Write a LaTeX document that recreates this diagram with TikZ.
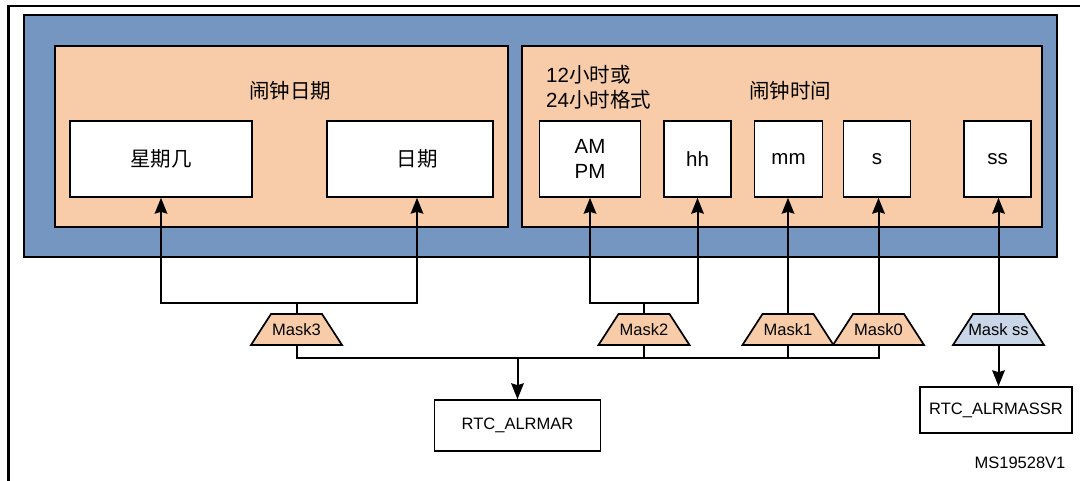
\documentclass[tikz,border=0pt]{standalone}
\usepackage{fontspec}
\setmainfont{Liberation Sans}
\newfontfamily\cjk{Noto Sans CJK SC}
\usetikzlibrary{arrows.meta}
\definecolor{bluebg}{HTML}{7596C1}
\definecolor{orangebg}{HTML}{F8CCA8}
\definecolor{maskss}{HTML}{C8D6E7}
\tikzset{
 frameline/.style={line width=2.5pt},
 panel/.style={draw, line width=2pt, fill=bluebg, minimum width=1033pt, minimum height=242pt, inner sep=0pt},
 group/.style={draw, line width=2pt, fill=orangebg, minimum height=181pt, inner sep=0pt},
 field/.style={draw, line width=1.7pt, fill=white, minimum height=76pt, inner sep=0pt, font=\fontsize{20.5}{25}\selectfont, align=center},
 masktext/.style={minimum width=51pt, minimum height=31pt, inner sep=0pt, font=\fontsize{16.5}{19}\selectfont},
 trapline/.style={draw, line width=1.7pt, line join=miter},
 reg/.style={draw, line width=1.7pt, fill=white, inner sep=0pt, font=\fontsize{16.5}{19}\selectfont},
 conn/.style={line width=2pt},
 arr/.style={conn, -{Stealth[length=16pt,width=13pt,inset=2pt,line width=0pt]}},
 lbl/.style={font=\fontsize{20.5}{25}\selectfont, inner sep=0pt}
}
\newcommand\masktrap[3]{%
  \filldraw[trapline, fill=#3] ({#1-45.5},{#2+15.5}) -- ({#1-25.5},{#2-15.5}) -- ({#1+25.5},{#2-15.5}) -- ({#1+45.5},{#2+15.5}) -- cycle;}
\begin{document}
\begin{tikzpicture}[x=1pt,y=-1pt]
\useasboundingbox (0,0) rectangle (1080,481);
% outer frame
\draw[frameline] (8.3,481) -- (8.3,6) -- (1080,6);
% blue panel
\node[panel] (panel) at (540.5,136) {};
% orange groups
\node[group, minimum width=453pt] (dategrp) at (281.5,136.5) {};
\node[group, minimum width=520pt] (timegrp) at (782,136.5) {};
% group titles
\node[lbl] (datetitle) at (290,91) {\cjk 闹钟日期};
\node[lbl] (timetitle) at (790,91) {\cjk 闹钟时间};
\node[lbl, anchor=west, align=left] (fmt) at (546,87) {12{\cjk 小时或}\\24{\cjk 小时格式}};
% fields
\node[field, minimum width=182pt] (wd) at (161,159) {\cjk 星期几};
\node[field, minimum width=166pt, label={[lbl, xshift=7pt]center:{\cjk 日期}}] (dt) at (410,159) {};
\node[field, minimum width=101pt] (ampm) at (590,159) {AM\\PM};
\node[field, minimum width=67pt] (hh) at (697.5,159) {hh};
\node[field, minimum width=68pt] (mm) at (788.5,159) {mm};
\node[field, minimum width=67pt] (sec) at (877,159) {s};
\node[field, minimum width=67pt] (ss) at (997.5,159) {ss};
% masks
\masktrap{296.5}{329.5}{orangebg}
\masktrap{644}{329.5}{orangebg}
\masktrap{788}{329.5}{orangebg}
\masktrap{878.5}{329.5}{orangebg}
\masktrap{998.5}{329.5}{maskss}
\node[masktext] (m3) at (296.5,329.5) {Mask3};
\node[masktext] (m2) at (644,329.5) {Mask2};
\node[masktext] (m1) at (788,329.5) {Mask1};
\node[masktext] (m0) at (878.5,329.5) {Mask0};
\node[masktext] (mss) at (998.5,329.5) {Mask ss};
% registers
\node[reg, minimum width=166pt, minimum height=51pt] (alrmar) at (517.5,425.5) {RTC\_ALRMAR};
\node[reg, minimum width=152pt, minimum height=46pt] (alrmassr) at (996,410) {RTC\_ALRMASSR};
\node[inner sep=0pt, font=\fontsize{16.5}{19}\selectfont] (ref) at (1020,463) {MS19528V1};
% connectors
\coordinate (b3) at (296.5,303);
\coordinate (b2) at (644,303);
\coordinate (bus) at (517.5,358);
\draw[conn] (m3.north) -- (b3);
\draw[arr] (b3) -| (wd.south);
\draw[arr] (b3) -| ([xshift=7pt]dt.south);
\draw[conn] (m2.north) -- (b2);
\draw[arr] (b2) -| (ampm.south);
\draw[arr] (b2) -| (hh.south);
\draw[arr] (m1.north) -- (m1.north |- mm.south);
\draw[arr] (m0.north) -- (m0.north |- sec.south);
\draw[arr] (mss.north) -- (mss.north |- ss.south);
\draw[conn] (m3.south) |- (bus);
\draw[conn] (m0.south) |- (bus);
\draw[conn] (m2.south) -- (m2.south |- bus);
\draw[conn] (m1.south) -- (m1.south |- bus);
\draw[arr] (bus) -- (alrmar.north);
\draw[arr] (mss.south) -- (mss.south |- alrmassr.north);
\end{tikzpicture}
\end{document}
